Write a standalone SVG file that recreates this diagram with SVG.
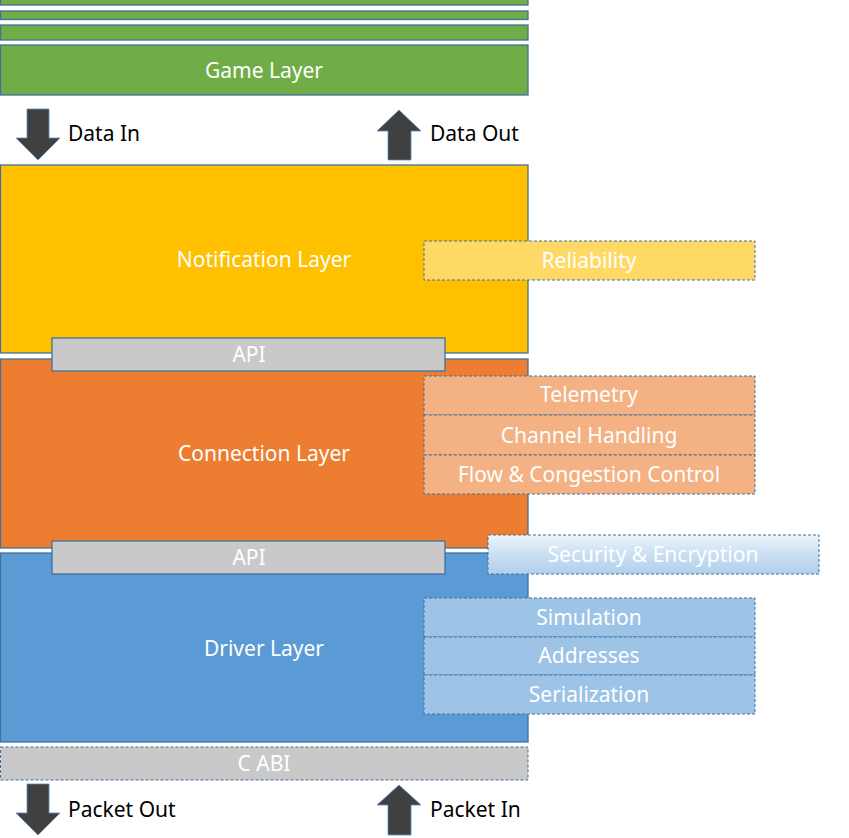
<svg xmlns="http://www.w3.org/2000/svg" width="849" height="838" viewBox="0 0 849 838">
<defs>
<linearGradient id="secGrad" x1="0" y1="0" x2="0" y2="1">
<stop offset="0" stop-color="#EEF4FB"/>
<stop offset="0.5" stop-color="#CADFF2"/>
<stop offset="1" stop-color="#B1CFEC"/>
</linearGradient>
</defs>
<style>
.layer{stroke:#41719C;stroke-width:1.3}
.sub{stroke:#41719C;stroke-width:1;stroke-dasharray:3,2}
.api{fill:#C9C9C9;stroke:#41719C;stroke-width:1.3}
.arrow{fill:#404040;stroke:#5B8DBE;stroke-width:0.8}
.lt{font-family:"Noto Sans","Open Sans",sans-serif;font-size:21px;fill:#FFFFFF;text-anchor:middle;dominant-baseline:central}
.st{font-family:"Noto Sans","Open Sans",sans-serif;font-size:21px;fill:#FFFFFF;text-anchor:middle;dominant-baseline:central}
.bt{font-family:"Noto Sans","Open Sans",sans-serif;font-size:21px;fill:#000000;dominant-baseline:central}
</style>
<g id="game-stack">
<rect class="layer" x="0.5" y="-1" width="527.5" height="6" fill="#70AD47"/>
<rect class="layer" x="0.5" y="11" width="527.5" height="8.5" fill="#70AD47"/>
<rect class="layer" x="0.5" y="25" width="527.5" height="15" fill="#70AD47"/>
</g>
<g id="game-layer">
<rect class="layer" x="0.5" y="45" width="527.5" height="50" fill="#70AD47"/>
<text class="lt" x="264" y="70">Game Layer</text>
</g>
<g id="data-in">
<polygon class="arrow" points="27,109 49,109 49,138 60,138 38,160 16,138 27,138"/>
<text class="bt" x="68" y="133">Data In</text>
</g>
<g id="data-out">
<polygon class="arrow" points="399,110 421,131 411,131 411,160 388,160 388,131 377,131"/>
<text class="bt" x="430" y="133">Data Out</text>
</g>
<g id="notification-layer">
<rect class="layer" x="0.5" y="165" width="527.5" height="188" fill="#FFC000"/>
<text class="lt" x="264" y="259">Notification Layer</text>
</g>
<g id="reliability">
<rect class="sub" x="424" y="241" width="331" height="39" fill="#FFD966"/>
<text class="st" x="589" y="260">Reliability</text>
</g>
<g id="connection-layer">
<rect class="layer" x="0.5" y="359" width="527.5" height="189" fill="#ED7D31"/>
<text class="lt" x="264" y="453">Connection Layer</text>
</g>
<g id="api-1">
<rect class="api" x="52" y="338" width="393" height="33"/>
<text class="st" x="249" y="354">API</text>
</g>
<g id="telemetry">
<rect class="sub" x="424" y="376" width="331" height="39" fill="#F4B183"/>
<text class="st" x="589" y="394">Telemetry</text>
</g>
<g id="channel-handling">
<rect class="sub" x="424" y="415" width="331" height="40" fill="#F4B183"/>
<text class="st" x="589" y="435">Channel Handling</text>
</g>
<g id="flow-congestion">
<rect class="sub" x="424" y="455" width="331" height="39" fill="#F4B183"/>
<text class="st" x="589" y="474">Flow &amp; Congestion Control</text>
</g>
<g id="driver-layer">
<rect class="layer" x="0.5" y="553" width="527.5" height="189" fill="#5B9BD5"/>
<text class="lt" x="264" y="648">Driver Layer</text>
</g>
<g id="api-2">
<rect class="api" x="52" y="541" width="393" height="33"/>
<text class="st" x="249" y="557">API</text>
</g>
<g id="security">
<rect class="sub" x="488" y="535" width="331" height="39" fill="url(#secGrad)"/>
<text class="st" x="653" y="554">Security &amp; Encryption</text>
</g>
<g id="simulation">
<rect class="sub" x="424" y="598" width="331" height="39" fill="#9DC3E6"/>
<text class="st" x="589" y="617">Simulation</text>
</g>
<g id="addresses">
<rect class="sub" x="424" y="637" width="331" height="38" fill="#9DC3E6"/>
<text class="st" x="589" y="655">Addresses</text>
</g>
<g id="serialization">
<rect class="sub" x="424" y="675" width="331" height="39" fill="#9DC3E6"/>
<text class="st" x="589" y="694">Serialization</text>
</g>
<g id="c-abi">
<rect class="sub" x="0.5" y="747" width="527.5" height="33" fill="#C9C9C9"/>
<text class="st" x="264" y="763">C ABI</text>
</g>
<g id="packet-out">
<polygon class="arrow" points="27,784 49,784 49,813 60,813 38,835 16,813 27,813"/>
<text class="bt" x="68" y="809">Packet Out</text>
</g>
<g id="packet-in">
<polygon class="arrow" points="399,785 421,805 411,805 411,835 388,835 388,805 377,805"/>
<text class="bt" x="430" y="809">Packet In</text>
</g>
<g id="connectors"></g>
</svg>
